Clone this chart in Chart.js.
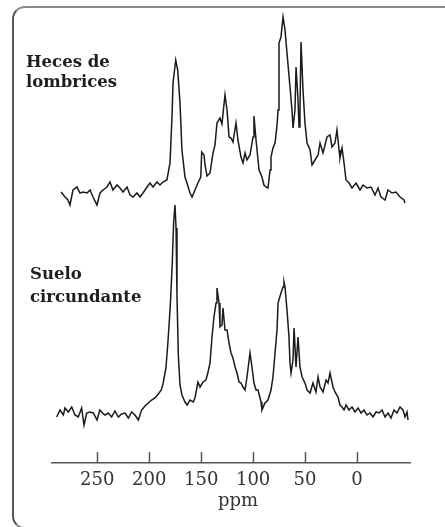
<!DOCTYPE html>
<html><head><meta charset="utf-8">
<script src="https://cdn.jsdelivr.net/npm/chart.js@4/dist/chart.umd.min.js"></script>
<style>
html,body{margin:0;padding:0;background:#fff;}
#wrap{position:relative;width:445px;height:527px;overflow:hidden;}
#frame{position:absolute;left:12px;top:6px;width:480px;height:523px;border:2px solid #8a8a8a;border-left-color:#555;border-radius:13px;box-sizing:border-box;}
canvas{position:absolute;left:0;top:0;}
</style></head>
<body><div id="wrap"><div id="frame"></div><canvas id="c" width="445" height="527"></canvas></div>
<script>
// x axis tick labels (ppm)
const tickValues = [250, 200, 150, 100, 50, 0];
const axisTitle = 'ppm';
const traceNames = [['Heces de', 'lombrices'], ['Suelo', 'circundante']];

// Trace 1: Heces de lombrices (chemical shift ppm, intensity above its own baseline)
const topPpm = [284.9, 281.1, 278.2, 276.3, 273.4, 269.5, 266.7, 263.8, 259.9, 257.0,
  254.1, 250.3, 247.4, 244.5, 240.7, 237.8, 234.9, 231.0, 228.2, 225.3,
  221.4, 218.5, 215.6, 211.8, 208.9, 206.0, 202.1, 199.3, 196.4, 192.5,
  189.7, 186.8, 183.0, 180.0, 178.1, 177.1, 174.5, 172.6, 170.4, 168.5,
  165.6, 163.7, 160.8, 158.8, 156.0, 153.1, 150.4, 149.5, 147.3, 146.3,
  144.4, 141.5, 138.6, 136.7, 134.8, 131.9, 130.0, 127.1, 125.1, 123.2,
  121.3, 119.4, 116.5, 114.6, 111.7, 109.7, 107.8, 105.9, 103.0, 100.1,
  99.2, 97.2, 94.3, 91.5, 89.6, 87.6, 85.7, 83.7, 82.8, 80.9,
  78.9, 77.0, 76.0, 75.1, 73.2, 71.2, 69.3, 67.4, 64.5, 62.6,
  61.6, 59.7, 58.7, 56.8, 55.8, 54.9, 53.9, 52.0, 50.1, 48.1,
  45.2, 43.3, 40.4, 37.5, 35.6, 32.7, 28.9, 26.0, 24.1, 21.2,
  19.3, 17.3, 16.4, 14.4, 12.5, 10.6, 7.7, 4.8, 1.0, -2.9,
  -5.8, -9.6, -13.5, -17.3, -20.2, -23.1, -27.0, -29.8, -33.7, -37.5,
  -41.4, -45.2, -46.2];
const topInt = [5, 0, -3, -8, 7, 10, 4, 5, 4, 7,
  0, -8, 4, 7, 10, 15, 7, 12, 9, 5,
  10, 2, 0, 4, 0, 4, 10, 14, 10, 15,
  12, 15, 17, 34, 80, 114, 137, 127, 94, 47,
  20, 14, 4, 0, 7, 14, 20, 45, 42, 32,
  21, 24, 44, 52, 74, 79, 73, 102, 87, 60,
  59, 55, 74, 57, 40, 34, 44, 37, 42, 60,
  81, 57, 27, 20, 12, 10, 9, 27, 40, 49,
  54, 72, 87, 154, 160, 180, 167, 144, 110, 87,
  69, 87, 130, 97, 70, 87, 155, 107, 74, 54,
  47, 32, 37, 42, 54, 44, 60, 62, 50, 54,
  67, 47, 39, 49, 34, 17, 14, 9, 14, 7,
  12, 9, 10, 2, 9, 0, -3, 7, 4, 5,
  0, -3, -6];

// Trace 2: Suelo circundante
const botPpm = [289.1, 285.9, 282.7, 281.1, 277.9, 274.6, 271.5, 268.3, 265.1, 262.8,
  260.2, 257.0, 253.8, 250.3, 247.5, 244.1, 242.6, 239.4, 236.2, 233.0,
  229.8, 226.6, 223.3, 220.1, 216.9, 213.7, 210.5, 207.3, 204.1, 200.9,
  197.7, 194.5, 191.3, 188.4, 186.8, 183.9, 182.0, 179.7, 177.8, 176.5,
  175.2, 174.2, 173.3, 172.0, 170.4, 168.5, 165.6, 163.4, 160.8, 157.6,
  156.0, 153.1, 151.1, 148.2, 145.4, 143.4, 141.5, 139.6, 137.7, 135.7,
  134.8, 132.8, 131.9, 130.0, 129.0, 127.1, 125.1, 123.2, 121.3, 119.4,
  117.4, 115.5, 113.6, 111.7, 109.7, 107.8, 105.9, 103.0, 101.1, 99.2,
  97.2, 95.3, 92.4, 91.5, 88.6, 85.7, 82.8, 80.9, 78.9, 77.0,
  76.0, 73.2, 71.2, 70.3, 69.3, 67.4, 65.5, 64.5, 63.5, 61.6,
  60.6, 58.7, 56.8, 54.9, 52.9, 50.1, 48.1, 45.2, 42.4, 39.5,
  37.5, 35.6, 32.7, 29.8, 27.9, 26.0, 23.1, 21.2, 18.3, 16.4,
  14.4, 12.5, 10.6, 7.7, 4.8, 1.9, -1.0, -3.9, -6.7, -9.6,
  -12.5, -15.4, -18.3, -21.2, -24.1, -27.0, -29.8, -32.7, -35.6, -38.5,
  -41.4, -44.3, -46.2, -48.1, -49.1];
const botInt = [-4, 3, -2, 5, 1, 6, -2, -4, 5, -12,
  0, 1, 0, -7, 3, -1, -2, 0, -4, 2,
  -4, -1, 0, -5, 1, -2, -7, 3, 7, 10,
  13, 15, 19, 23, 29, 45, 71, 108, 151, 191,
  208, 185, 118, 58, 28, 18, 11, 8, 13, 11,
  15, 31, 26, 31, 33, 41, 50, 76, 96, 110,
  125, 110, 86, 88, 105, 83, 83, 70, 60, 55,
  46, 40, 31, 30, 26, 23, 36, 60, 46, 30,
  23, 23, 11, 3, 10, 13, 23, 36, 60, 83,
  110, 120, 126, 131, 126, 103, 76, 50, 40, 53,
  85, 46, 76, 46, 36, 30, 23, 20, 30, 21,
  36, 26, 21, 33, 30, 40, 26, 21, 16, 8,
  6, 3, 8, 3, 6, 1, 5, 0, 3, -2,
  0, -4, 1, 0, 3, -4, 0, -5, 3, 0,
  6, 3, -4, 1, -7];

// vertical stacking of the two spectra (intensity units)
const traceOffsets = [266, 50];

function build(ppm, inten, off) {
  return ppm.map((p, i) => ({ x: p, y: inten[i] + off }));
}

const overlay = {
  id: 'overlay',
  afterDraw(chart) {
    const { ctx, scales: { x } } = chart;
    const yb = chart.chartArea.bottom;
    ctx.save();
    ctx.strokeStyle = '#555';
    ctx.lineWidth = 1.5;
    x.ticks.forEach(t => {
      const px = Math.round(x.getPixelForValue(t.value)) + 0.5;
      ctx.beginPath(); ctx.moveTo(px, yb); ctx.lineTo(px, yb - 11); ctx.stroke();
    });
    // axis title
    ctx.fillStyle = '#333';
    ctx.font = '18px "DejaVu Serif"';
    ctx.textAlign = 'center';
    ctx.textBaseline = 'alphabetic';
    ctx.fillText(axisTitle, 238, 506);
    // trace labels
    ctx.fillStyle = '#1e1e1e';
    ctx.font = 'bold 16.5px "DejaVu Serif"';
    ctx.textAlign = 'left';
    ctx.fillText(traceNames[0][0], 26, 67);
    ctx.fillText(traceNames[0][1], 26, 87);
    ctx.fillText(traceNames[1][0], 30, 279);
    ctx.fillText(traceNames[1][1], 30, 302);
    ctx.restore();
  }
};

new Chart(document.getElementById('c'), {
  type: 'line',
  data: {
    datasets: [
      { label: traceNames[0].join(' '), data: build(topPpm, topInt, traceOffsets[0]),
        borderColor: '#1a1a1a', borderWidth: 1.5, pointRadius: 0, tension: 0, fill: false },
      { label: traceNames[1].join(' '), data: build(botPpm, botInt, traceOffsets[1]),
        borderColor: '#1a1a1a', borderWidth: 1.5, pointRadius: 0, tension: 0, fill: false }
    ]
  },
  options: {
    responsive: false,
    animation: false,
    layout: { padding: { left: 52, right: 35, top: 7, bottom: 0 } },
    plugins: { legend: { display: false }, tooltip: { enabled: false } },
    scales: {
      x: {
        type: 'linear', reverse: true, min: -51, max: 293.6,
        afterBuildTicks: s => { s.ticks = tickValues.map(v => ({ value: v })); },
        afterFit: s => { s.height = 64; },
        grid: { display: false, drawTicks: false },
        border: { display: true, color: '#555', width: 1.5 },
        ticks: { autoSkip: false, maxRotation: 0, padding: 7, color: '#333',
          font: { family: 'DejaVu Serif', size: 18 } },
        title: { display: false }
      },
      y: { display: false, min: 0, max: 456 }
    }
  },
  plugins: [overlay]
});
</script>
</body></html>
